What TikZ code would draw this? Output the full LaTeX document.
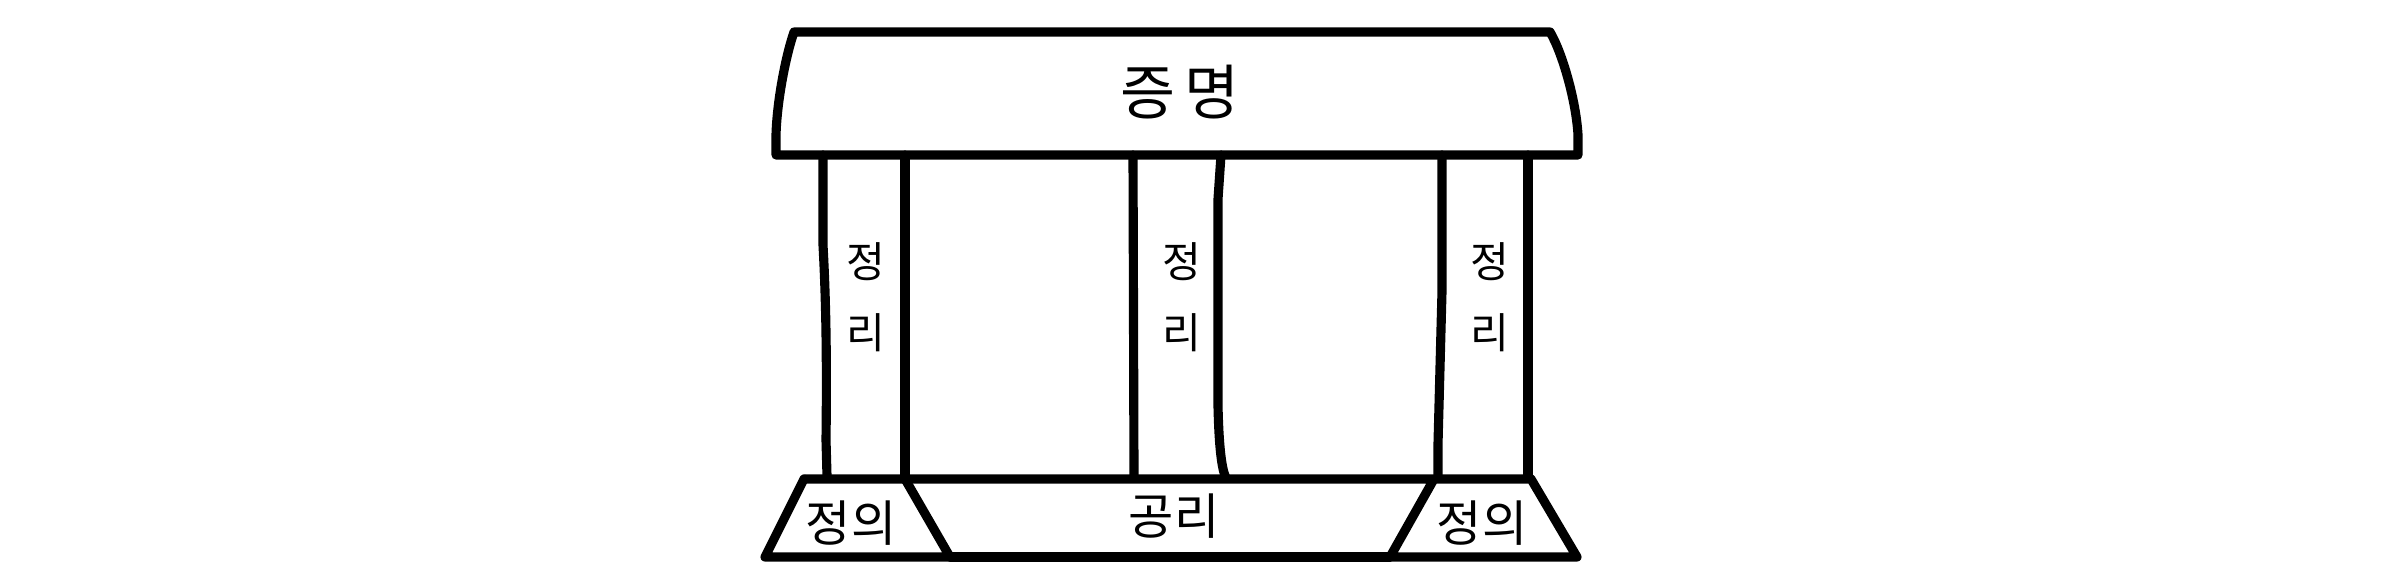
\documentclass[tikz,border=0pt]{standalone}
\usepackage{fontspec}
\newfontfamily\kr{Noto Sans CJK KR}
\begin{document}
\begin{tikzpicture}[x=0.01cm,y=-0.01cm,
  ln/.style={line width=2.6pt,line join=round,line cap=round,draw=black},
  big/.style={font=\kr\fontsize{17}{20}\selectfont,inner sep=0pt},
  mid/.style={font=\kr\fontsize{12}{14}\selectfont,inner sep=0pt},
  base/.style={font=\kr\fontsize{14}{16}\selectfont,inner sep=0pt}]
\useasboundingbox (0,0) rectangle (2400,588);
% roof
\coordinate (rtl) at (794,32);
\coordinate (rtr) at (1550,32);
\coordinate (rbr) at (1578,155);
\coordinate (rbl) at (776,155);
\draw[ln] (rtl) -- (rtr) .. controls (1562,52) and (1576,100) .. (1578,135) -- (rbr) -- (rbl)
  -- (776,135) .. controls (777,100) and (786,55) .. cycle;
\node[big] (proof) at (1180,92) {증\,명};
% pillars
\draw[ln] (823,155) -- (823,245) .. controls (826,300) and (827,360) .. (826,440) -- (827,476);
\draw[ln] (905,155) -- (905,478);
\draw[ln] (1133,155) -- (1134,478);
\draw[ln] (1221,155) -- (1218,199) -- (1218,406) .. controls (1219,450) and (1222,470) .. (1226,478);
\draw[ln] (1442,155) -- (1442,291) -- (1438,444) -- (1438,478);
\draw[ln] (1528,155) -- (1528,478);
\node[mid] (t1a) at (866,262) {정};
\node[mid] (t1b) at (866,333) {리};
\node[mid] (t2a) at (1182,262) {정};
\node[mid] (t2b) at (1182,333) {리};
\node[mid] (t3a) at (1490,262) {정};
\node[mid] (t3b) at (1490,333) {리};
% base
\coordinate (b1) at (804,479);
\coordinate (b2) at (905,479);
\coordinate (b3) at (1434,479);
\coordinate (b4) at (1531,479);
\coordinate (c1) at (765,557);
\coordinate (c2) at (950,557);
\coordinate (c3) at (1390,557);
\coordinate (c4) at (1577,557);
\draw[ln] (b1) -- (b4) -- (c4) -- (c3) -- (b3);
\draw[ln] (b1) -- (c1) -- (c2) -- (b2);
\draw[ln] (c2) -- (c3);
\node[base] (def1) at (851,523) {정의};
\node[base] (ax) at (1174,516) {공리};
\node[base] (def2) at (1482,523) {정의};
\end{tikzpicture}
\end{document}
